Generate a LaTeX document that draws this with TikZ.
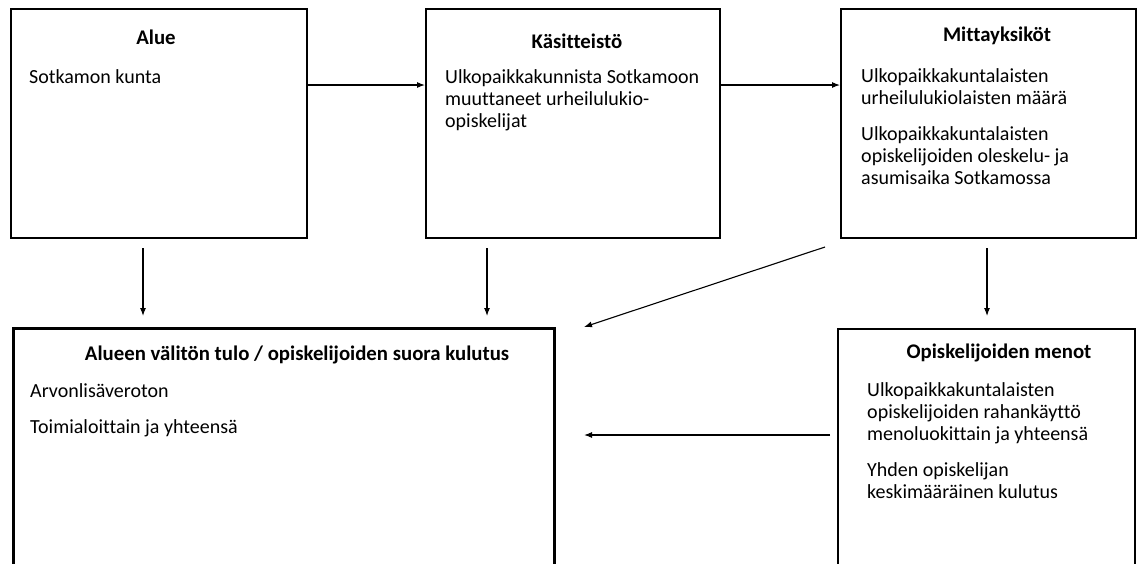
\documentclass[tikz,border=0pt]{standalone}
\usepackage{fontspec}
\setmainfont{Carlito}[Ligatures=NoCommon]
\usetikzlibrary{arrows.meta,calc}
\begin{document}
\begin{tikzpicture}[x=1pt,y=-1pt,
  box/.style={draw, line width=1.6pt, anchor=north west, inner sep=0pt},
  thickbox/.style={box, line width=3.4pt},
  ttl/.style={font=\fontsize{20.8}{22}\selectfont\bfseries, anchor=base, inner sep=0pt},
  txt/.style={font=\fontsize{20}{22.3}\selectfont, anchor=base west, align=left, inner sep=0pt},
  arr/.style={-{Latex[length=8pt,width=6pt]}, line width=1.1pt}]
\useasboundingbox (0,0) rectangle (1139,563);
\clip (0,0) rectangle (1139,563);
% boxes
\node[box, minimum width=296pt, minimum height=229pt] (alue) at (10,8) {};
\node[box, minimum width=294pt, minimum height=229pt] (kasit) at (425,8) {};
\node[box, minimum width=295pt, minimum height=229pt] (mitta) at (840,8) {};
\node[thickbox, minimum width=541pt, minimum height=260pt] (tulo) at (12,327) {};
\node[box, minimum width=297pt, minimum height=260pt] (menot) at (837,328) {};
% texts (multi-line nodes are placed at the baseline of their last line)
\node[ttl] (t1) at (156,44) {Alue};
\node[txt] (b1) at (29,83) {Sotkamon kunta};
\node[ttl] (t2) at (577,48) {Käsitteistö};
\node[txt] (b2) at (445,127.6) {Ulkopaikkakunnista Sotkamoon\\muuttaneet urheilulukio-\\opiskelijat};
\node[ttl] (t3) at (997,41) {Mittayksiköt};
\node[txt] (b3a) at (861,104.3) {Ulkopaikkakuntalaisten\\urheilulukiolaisten määrä};
\node[txt] (b3b) at (861,184.6) {Ulkopaikkakuntalaisten\\opiskelijoiden oleskelu- ja\\asumisaika Sotkamossa};
\node[ttl] (t4) at (297,360) {Alueen välitön tulo / opiskelijoiden suora kulutus};
\node[txt] (b4a) at (30,397) {Arvonlisäveroton};
\node[txt] (b4b) at (30,433) {Toimialoittain ja yhteensä};
\node[ttl] (t5) at (999,358) {Opiskelijoiden menot};
\node[txt] (b5a) at (867,440.6) {Ulkopaikkakuntalaisten\\opiskelijoiden rahankäyttö\\menoluokittain ja yhteensä};
\node[txt] (b5b) at (867,498.3) {Yhden opiskelijan\\keskimääräinen kulutus};
% connector end points
\coordinate (a1s) at (143,248); \coordinate (a1e) at (143,316);
\coordinate (a2s) at (487,248); \coordinate (a2e) at (487,316);
\coordinate (a3s) at (987,248); \coordinate (a3e) at (987,316);
\coordinate (dgs) at (825,247); \coordinate (dge) at (584,327);
\coordinate (hzs) at (830,435); \coordinate (hze) at (584,435);
% connectors
\draw[arr] (alue.east |- 0,85) -- (kasit.west |- 0,85);
\draw[arr] (kasit.east |- 0,85) -- (mitta.west |- 0,85);
\draw[arr] (a1s) -- (a1e);
\draw[arr] (a2s) -- (a2e);
\draw[arr] (a3s) -- (a3e);
\draw[arr] (dgs) -- (dge);
\draw[arr] (hzs) -- (hze);
\end{tikzpicture}
\end{document}
